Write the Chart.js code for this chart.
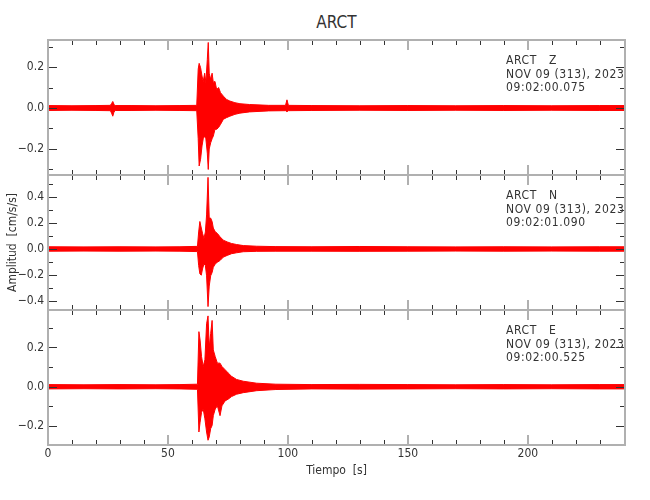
<!DOCTYPE html>
<html>
<head>
<meta charset="utf-8">
<script src="https://cdn.jsdelivr.net/npm/chart.js@4.4.1/dist/chart.umd.min.js"></script>
<style>
  body { margin: 0; background: #fff; }
  #page { position: relative; width: 650px; height: 500px; overflow: hidden;
          font-family: "DejaVu Sans Condensed", "Liberation Sans Narrow", sans-serif; color: #333; }
  canvas { position: absolute; left: 0; }
  .title { position: absolute; top: 12px; left: 48px; width: 577px; text-align: center; font-size: 17px; }
  .info { position: absolute; left: 506px; font-size: 12px; line-height: 13.5px; letter-spacing: 0.6px; white-space: pre; }
</style>
</head>
<body>
<div id="page">
  <div class="title">ARCT</div>
  <canvas id="chartZ" width="650" height="145" style="top:35px"></canvas>
  <canvas id="chartN" width="650" height="145" style="top:170px"></canvas>
  <canvas id="chartE" width="650" height="195" style="top:305px"></canvas>
  <div class="info" style="top:54px">ARCT   Z
NOV 09 (313), 2023
09:02:00.075</div>
  <div class="info" style="top:189px">ARCT   N
NOV 09 (313), 2023
09:02:01.090</div>
  <div class="info" style="top:324px">ARCT   E
NOV 09 (313), 2023
09:02:00.525</div>
</div>
<script>
// tick labels and tick positions
const xTickLabels = [0, 50, 100, 150, 200];
const xMinorTicks = [10, 20, 30, 40, 60, 70, 80, 90, 110, 120, 130, 140, 160, 170, 180, 190, 210, 220, 230, 240];
const yTicksZ = [-0.2, 0, 0.2];
const yMinorZ = [-0.3, -0.1, 0.1, 0.3];
const yTicksN = [-0.4, -0.2, 0, 0.2, 0.4];
const yMinorN = [-0.3, -0.1, 0.1, 0.3, 0.5];
const yTicksE = [-0.2, 0, 0.2];
const yMinorE = [-0.1, 0.1, 0.3];

// Z component: time [s] and upper / lower envelope of the trace
const timeZ = [0, 10, 20, 26, 26.5, 27, 27.5, 28, 35, 45, 55, 62, 62.6, 63.0, 63.6, 64.2, 64.7, 65.3, 65.8, 66.4, 66.8, 67.2, 67.8, 68.4, 68.9, 69.6, 70.3, 71.1, 71.9, 73.1, 74.4, 75.8, 77.9, 80, 84, 92, 99, 99.6, 100.2, 110, 130, 150, 170, 190, 210, 230, 240.5];
const upperZ = [0.012, 0.011, 0.012, 0.013, 0.022, 0.032, 0.018, 0.012, 0.012, 0.011, 0.012, 0.013,
  0.19, 0.218, 0.197, 0.156, 0.13, 0.17, 0.125, 0.237, 0.32, 0.17, 0.14, 0.17, 0.125, 0.13, 0.09,
  0.1, 0.075, 0.058, 0.042, 0.034, 0.026, 0.021, 0.017, 0.013, 0.013, 0.04, 0.013,
  0.012, 0.011, 0.012, 0.011, 0.012, 0.011, 0.012, 0.012];
const lowerZ = [-0.012, -0.011, -0.012, -0.013, -0.025, -0.04, -0.02, -0.012, -0.012, -0.011, -0.012, -0.013,
  -0.15, -0.283, -0.25, -0.185, -0.15, -0.137, -0.15, -0.22, -0.30, -0.2, -0.17, -0.15, -0.137, -0.104, -0.104,
  -0.095, -0.08, -0.055, -0.047, -0.04, -0.031, -0.025, -0.019, -0.014, -0.013, -0.018, -0.013,
  -0.012, -0.011, -0.012, -0.011, -0.012, -0.011, -0.012, -0.012];

// N component
const timeN = [0, 15, 30, 45, 55, 62.3, 62.8, 63.3, 63.9, 64.4, 65.0, 65.6, 66.1, 66.7, 67.2, 67.8, 68.4, 68.9, 69.7, 70.6, 71.7, 73.1, 74.7, 76.5, 78.6, 81.4, 87, 95, 110, 130, 150, 170, 190, 210, 230, 240.5];
const upperN = [0.017, 0.016, 0.017, 0.016, 0.017, 0.02, 0.13, 0.21, 0.16, 0.12,
  0.08, 0.13, 0.26, 0.547, 0.236, 0.236, 0.21, 0.16, 0.132, 0.119,
  0.093, 0.067, 0.054, 0.042, 0.034, 0.026, 0.021, 0.018,
  0.017, 0.019, 0.017, 0.016, 0.017, 0.016, 0.017, 0.017];
const lowerN = [-0.017, -0.016, -0.017, -0.016, -0.017, -0.02, -0.127, -0.19, -0.2, -0.153,
  -0.114, -0.127, -0.205, -0.44, -0.283, -0.205, -0.18, -0.14, -0.114, -0.101,
  -0.088, -0.062, -0.049, -0.036, -0.029, -0.021, -0.018, -0.017,
  -0.017, -0.018, -0.017, -0.016, -0.017, -0.016, -0.017, -0.017];

// E component
const timeE = [0, 15, 30, 45, 55, 62.3, 62.9, 63.4, 64.0, 64.7, 65.4, 66.1, 66.7, 67.2, 67.8, 68.4, 68.9, 69.7, 70.6, 71.7, 72.5, 73.8, 75.1, 76.5, 78.6, 81.4, 87, 95, 110, 130, 150, 170, 190, 210, 230, 240.5];
const upperE = [0.011, 0.01, 0.011, 0.01, 0.011, 0.013, 0.28, 0.237, 0.153, 0.103,
  0.137, 0.32, 0.36, 0.2, 0.27, 0.337, 0.187, 0.153, 0.12, 0.12,
  0.103, 0.087, 0.07, 0.053, 0.037, 0.028, 0.018, 0.013,
  0.011, 0.012, 0.011, 0.01, 0.011, 0.01, 0.011, 0.011];
const lowerE = [-0.011, -0.01, -0.011, -0.01, -0.011, -0.013, -0.23, -0.18, -0.13, -0.113,
  -0.163, -0.23, -0.272, -0.255, -0.213, -0.197, -0.147, -0.113, -0.097, -0.147,
  -0.097, -0.072, -0.063, -0.05, -0.038, -0.03, -0.02, -0.014,
  -0.011, -0.012, -0.011, -0.01, -0.011, -0.01, -0.011, -0.011];

const RED = '#ff0000';
const FRAME = '#b0b0b0';
const INK = '#333333';
Chart.defaults.font.family = '"DejaVu Sans Condensed", "Liberation Sans Narrow", sans-serif';
Chart.defaults.font.size = 12;
Chart.defaults.color = INK;

// frame around each panel plus inward tick marks on all four sides
const frameTicks = {
    id: 'frameTicks',
    afterDatasetsDraw(chart, args, opts) {
        const { ctx, chartArea: a, scales: { x, y } } = chart;
        ctx.save();
        ctx.strokeStyle = INK;
        ctx.lineWidth = 1;
        ctx.beginPath();
        xMinorTicks.forEach(v => {
            const px = Math.round(x.getPixelForValue(v)) + 0.5;
            ctx.moveTo(px, a.top); ctx.lineTo(px, a.top + 5);
            ctx.moveTo(px, a.bottom); ctx.lineTo(px, a.bottom - 5);
        });
        opts.minor.forEach(v => {
            const py = Math.round(y.getPixelForValue(v)) + 0.5;
            ctx.moveTo(a.left, py); ctx.lineTo(a.left + 5, py);
            ctx.moveTo(a.right, py); ctx.lineTo(a.right - 5, py);
        });
        opts.major.forEach(v => {
            const py = Math.round(y.getPixelForValue(v)) + 0.5;
            ctx.moveTo(a.left, py); ctx.lineTo(a.left + 9, py);
            ctx.moveTo(a.right, py); ctx.lineTo(a.right - 9, py);
        });
        ctx.stroke();

        ctx.strokeStyle = FRAME;
        ctx.lineWidth = 2;
        ctx.beginPath();
        xTickLabels.forEach(v => {
            const px = Math.round(x.getPixelForValue(v));
            ctx.moveTo(px, a.top); ctx.lineTo(px, a.top + 10);
            ctx.moveTo(px, a.bottom); ctx.lineTo(px, a.bottom - 10);
        });
        ctx.stroke();
        ctx.strokeRect(a.left, a.top, a.right - a.left, a.bottom - a.top);
        ctx.restore();
    }
};

function fmt(v) {
    return Number(v).toFixed(1).replace('-', '\u2212');
}

function band(times, upper, lower) {
    return [
        {
            data: times.map((t, i) => ({ x: t, y: upper[i] })),
            borderColor: RED, borderWidth: 1, pointRadius: 0, fill: false
        },
        {
            data: times.map((t, i) => ({ x: t, y: lower[i] })),
            borderColor: RED, borderWidth: 1, pointRadius: 0, fill: '-1', backgroundColor: RED
        }
    ];
}

function makePanel(canvasId, datasets, yMin, yMax, major, minor, extra = {}) {
    const showX = !!extra.showX;
    return new Chart(document.getElementById(canvasId), {
        type: 'line',
        data: { datasets: datasets },
        options: {
            responsive: false,
            animation: false,
            events: [],
            layout: { padding: { top: 5, bottom: showX ? 0 : 5, left: 0, right: 25 } },
            plugins: {
                legend: { display: false },
                tooltip: { enabled: false },
                frameTicks: { major: major, minor: minor }
            },
            scales: {
                x: {
                    type: 'linear',
                    min: 0,
                    max: 240.5,
                    display: showX,
                    afterFit: s => {
                        if (showX) s.height = 55;
                        s.paddingLeft = 0;
                        s.paddingRight = 0;
                    },
                    afterBuildTicks: s => { s.ticks = xTickLabels.map(v => ({ value: v })); },
                    grid: { display: false, drawTicks: false },
                    border: { display: false },
                    ticks: { padding: 2, autoSkip: false, maxRotation: 0 },
                    title: {
                        display: showX,
                        text: 'Tiempo  [s]',
                        padding: { top: 0, bottom: 22 }
                    }
                },
                y: {
                    type: 'linear',
                    min: yMin,
                    max: yMax,
                    afterFit: s => {
                        s.width = 48;
                        s.paddingTop = 0;
                        s.paddingBottom = 0;
                    },
                    afterBuildTicks: s => { s.ticks = major.map(v => ({ value: v })); },
                    grid: { display: false, drawTicks: false },
                    border: { display: false },
                    ticks: { padding: 4, callback: fmt },
                    title: {
                        display: !!extra.yTitle,
                        text: extra.yTitle || '',
                        padding: { top: 6, bottom: 0 }
                    }
                }
            }
        },
        plugins: [frameTicks]
    });
}

makePanel('chartZ', band(timeZ, upperZ, lowerZ), -0.327, 0.332, yTicksZ, yMinorZ);
makePanel('chartN', band(timeN, upperN, lowerN), -0.466, 0.565, yTicksN, yMinorN, { yTitle: 'Amplitud  [cm/s/s]' });
makePanel('chartE', band(timeE, upperE, lowerE), -0.296, 0.39, yTicksE, yMinorE, { showX: true });
</script>
</body>
</html>
